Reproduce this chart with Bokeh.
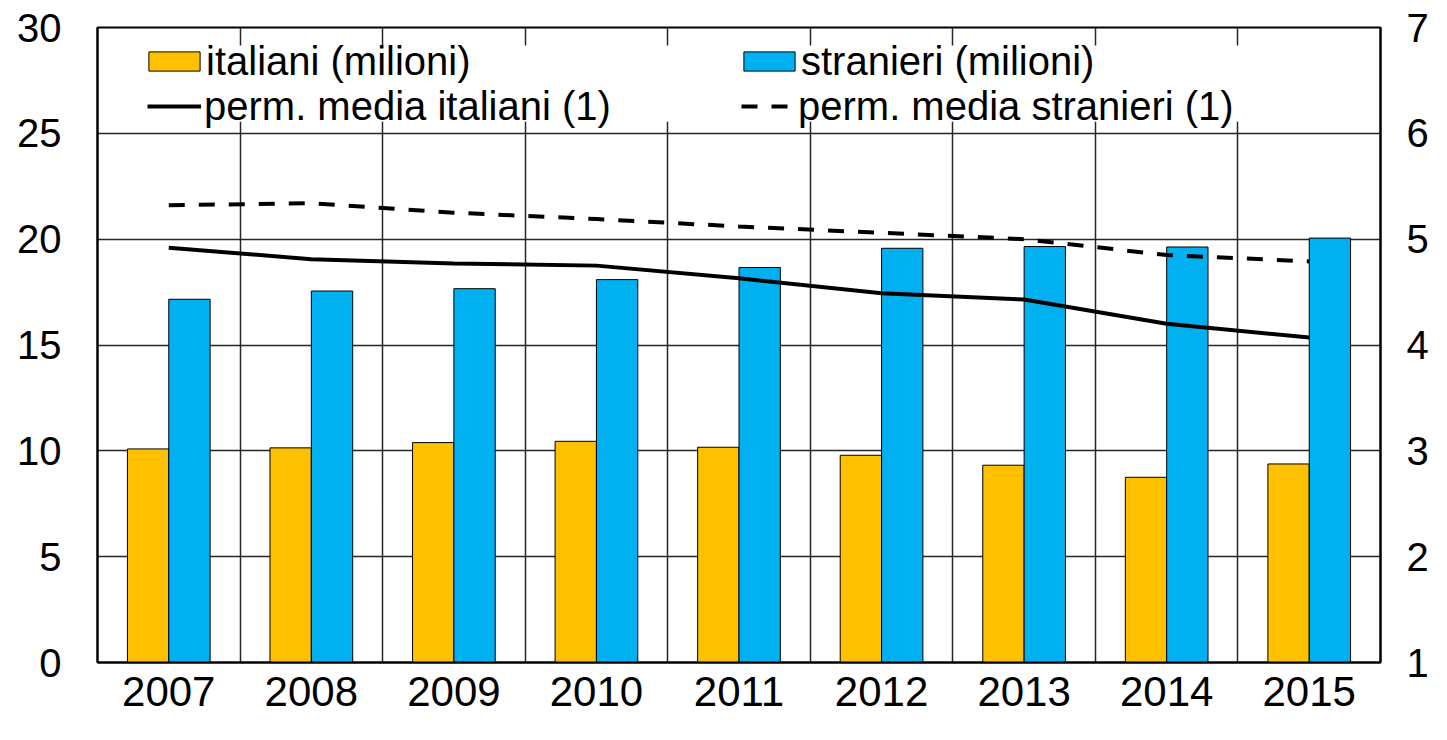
import numpy as np
from bokeh.plotting import figure
from bokeh.models import (ColumnDataSource, Range1d, LinearAxis, FixedTicker,
                          Legend, LegendItem, BoxAnnotation)
from bokeh.embed import file_html
from bokeh.resources import INLINE

# ---- data ----
years = ["2007", "2008", "2009", "2010", "2011", "2012", "2013", "2014", "2015"]
italiani = [10.09, 10.14, 10.39, 10.45, 10.17, 9.79, 9.32, 8.75, 9.38]
stranieri = [17.16, 17.55, 17.66, 18.09, 18.66, 19.57, 19.65, 19.63, 20.05]
perm_italiani = [4.92, 4.81, 4.77, 4.75, 4.63, 4.49, 4.43, 4.20, 4.07]
perm_stranieri = [5.32, 5.34, 5.25, 5.19, 5.12, 5.06, 5.00, 4.85, 4.79]
left_ticks = [0, 5, 10, 15, 20, 25, 30]
right_ticks = [1, 2, 3, 4, 5, 6, 7]

FONT = "Liberation Sans"
ORANGE = "#FFC000"
BLUE = "#00B0F0"

n = len(years)
centers = np.arange(n) + 0.5
bw = 0.29

src = ColumnDataSource(dict(
    x=centers, ita=italiani, stra=stranieri,
    pita=perm_italiani, pstra=perm_stranieri,
    x_ita=centers - bw / 2, x_stra=centers + bw / 2,
))

W, H = 1431, 724
TOP, BOTTOM, LEFT, RIGHT = 27, 62, 97, 50

p = figure(width=W, height=H, output_backend="svg", toolbar_location=None,
           x_range=Range1d(0, n), y_range=Range1d(left_ticks[0], left_ticks[-1]),
           min_border_left=LEFT, min_border_right=RIGHT, min_border_top=TOP,
           min_border_bottom=BOTTOM)
p.extra_y_ranges = {"right": Range1d(right_ticks[0], right_ticks[-1])}

p.outline_line_color = "black"
p.outline_line_width = 2
p.background_fill_color = "white"
p.border_fill_color = "white"

# grids
p.ygrid.ticker = FixedTicker(ticks=left_ticks)
p.xgrid.ticker = FixedTicker(ticks=list(range(1, n)))
for g in (p.xgrid, p.ygrid):
    g.grid_line_color = "#262626"
    g.grid_line_width = 1.5

# x axis with year labels at category centers
xa = p.xaxis[0]
xa.ticker = FixedTicker(ticks=centers.tolist())
xa.major_label_overrides = {float(c): y for c, y in zip(centers, years)}
xa.major_tick_out = 0
xa.major_tick_in = 0
xa.minor_tick_line_color = None
xa.axis_line_width = 2
xa.axis_line_color = "black"
xa.major_label_standoff = 14
xa.major_label_text_font = FONT
xa.major_label_text_font_size = "42px"
xa.major_label_text_color = "black"

# left axis
yl = p.yaxis[0]
yl.ticker = FixedTicker(ticks=left_ticks)
yl.major_tick_out = 0
yl.major_tick_in = 0
yl.minor_tick_line_color = None
yl.axis_line_width = 2
yl.axis_line_color = "black"
yl.major_label_standoff = 36
yl.major_label_text_font = FONT
yl.major_label_text_font_size = "40px"
yl.major_label_text_color = "black"

# right axis
yr = LinearAxis(y_range_name="right", ticker=FixedTicker(ticks=right_ticks))
yr.major_tick_out = 0
yr.major_tick_in = 0
yr.minor_tick_line_color = None
yr.axis_line_width = 2
yr.axis_line_color = "black"
yr.major_label_standoff = 26
yr.major_label_text_font = FONT
yr.major_label_text_font_size = "40px"
yr.major_label_text_color = "black"
p.add_layout(yr, "right")

# bars
r_ita = p.vbar(x="x_ita", top="ita", bottom=0, width=bw, source=src,
               fill_color=ORANGE, line_color="black", line_width=1)
r_stra = p.vbar(x="x_stra", top="stra", bottom=0, width=bw, source=src,
                fill_color=BLUE, line_color="black", line_width=1)

# lines (right axis)
r_pita = p.line(x="x", y="pita", source=src, y_range_name="right",
                line_color="black", line_width=4)
r_pstra = p.line(x="x", y="pstra", source=src, y_range_name="right",
                 line_color="black", line_width=4, line_dash="16 14")

# white legend background (interrupts the vertical grid lines)
box = BoxAnnotation(left=0.2, right=n - 0.2, top=29.15, bottom=25.55,
                    fill_color="white", fill_alpha=1, line_color=None)
p.add_layout(box)

frame_bottom = H - BOTTOM
LEG_FS = 40
HALF = 22.5


def mk_legend(item, x, center_y, gw, gh, standoff):
    # location = bottom-left corner of the legend, measured from frame bottom-left
    lg = Legend(items=[item], location=(x, frame_bottom - (center_y + HALF)),
                padding=0, margin=0, spacing=0,
                border_line_color=None, background_fill_alpha=0,
                glyph_width=gw, glyph_height=gh, label_standoff=standoff,
                label_text_font=FONT, label_text_font_size=f"{LEG_FS}px",
                label_text_color="black", label_height=20)
    p.add_layout(lg)


ROW1, ROW2 = 61, 106
mk_legend(LegendItem(label="italiani (milioni)", renderers=[r_ita]), 45, ROW1, 64, 24, 0)
mk_legend(LegendItem(label="perm. media italiani (1)", renderers=[r_pita]), 50, ROW2, 54, 20, 3)
mk_legend(LegendItem(label="stranieri (milioni)", renderers=[r_stra]), 640, ROW1, 64, 24, 0)
mk_legend(LegendItem(label="perm. media stranieri (1)", renderers=[r_pstra]), 644, ROW2, 54, 20, 3)

open("out.html", "w").write(file_html(p, INLINE))
